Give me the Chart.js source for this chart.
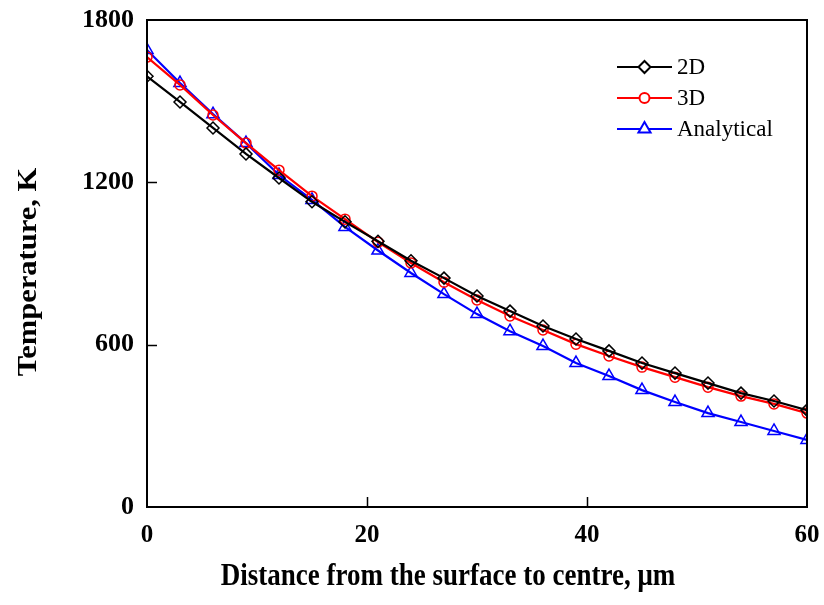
<!DOCTYPE html>
<html>
<head>
<meta charset="utf-8">
<script src="https://cdn.jsdelivr.net/npm/chart.js@4/dist/chart.umd.min.js"></script>
<style>
  html, body { margin: 0; padding: 0; background: #fff; }
  #wrap { width: 824px; height: 605px; }
</style>
</head>
<body>
<div id="wrap"><canvas id="chartCanvas" width="824" height="605"></canvas></div>
<script>
// data
const distance = [0, 3, 6, 9, 12, 15, 18, 21, 24, 27, 30, 33, 36, 39, 42, 45, 48, 51, 54, 57, 60];
const temp2D = [1592, 1497, 1401, 1305, 1216, 1128, 1054, 982, 910, 846, 780, 724, 669, 621, 577, 532, 495, 458, 421, 392, 358];
const temp3D = [1663, 1560, 1449, 1345, 1245, 1149, 1064, 979, 902, 831, 765, 706, 654, 602, 558, 517, 480, 443, 410, 381, 347];
const tempAnalytical = [1689, 1567, 1452, 1345, 1227, 1135, 1035, 948, 865, 787, 713, 650, 595, 532, 484, 432, 388, 347, 314, 281, 248];
const xTicks = [0, 20, 40, 60];
const yTicks = [0, 600, 1200, 1800];
const xTitle = 'Distance from the surface to centre, μm';
const yTitle = 'Temperature, K';

const series = [
    { label: '2D', data: temp2D, color: '#000000', style: 'rectRot', r: 6 },
    { label: '3D', data: temp3D, color: '#ff0000', style: 'circle', r: 5 },
    { label: 'Analytical', data: tempAnalytical, color: '#0000ff', style: 'triangle', r: 7 }
];

const serif = '"Liberation Serif", "Times New Roman", serif';

// frame + inward ticks
const framePlugin = {
    id: 'frame',
    afterDatasetsDraw(chart) {
        const { ctx, chartArea: a, scales } = chart;
        ctx.save();
        ctx.strokeStyle = '#000';
        ctx.lineWidth = 2;
        ctx.strokeRect(a.left, a.top, a.right - a.left, a.bottom - a.top);
        ctx.lineWidth = 1.5;
        ctx.beginPath();
        xTicks.slice(1, -1).forEach(v => {
            const px = Math.round(scales.x.getPixelForValue(v)) + 0.5;
            ctx.moveTo(px, a.bottom); ctx.lineTo(px, a.bottom - 10);
        });
        yTicks.slice(1, -1).forEach(v => {
            const py = Math.round(scales.y.getPixelForValue(v)) + 0.5;
            ctx.moveTo(a.left, py); ctx.lineTo(a.left + 10, py);
        });
        ctx.stroke();
        ctx.restore();
    }
};

// axis titles (slightly stretched, like the original figure)
const titlePlugin = {
    id: 'axisTitles',
    afterDraw(chart) {
        const { ctx } = chart;
        ctx.save();
        ctx.fillStyle = '#000';
        ctx.font = 'bold 27px ' + serif;
        ctx.textAlign = 'center';
        ctx.textBaseline = 'middle';
        ctx.save();
        ctx.translate(448, 577);
        ctx.scale(1, 1.15);
        ctx.fillText(xTitle, 0, 0);
        ctx.restore();
        ctx.save();
        ctx.translate(29, 272);
        ctx.rotate(-Math.PI / 2);
        ctx.scale(1.13, 1);
        ctx.fillText(yTitle, 0, 0);
        ctx.restore();
        ctx.restore();
    }
};

// legend drawn as line + marker like the original
const legendPlugin = {
    id: 'lineLegend',
    afterDraw(chart) {
        const { ctx } = chart;
        const x0 = 617, x1 = 672, y0 = 67, gap = 31;
        ctx.save();
        series.forEach((s, i) => {
            const y = y0 + i * gap;
            ctx.strokeStyle = s.color;
            ctx.lineWidth = 2;
            ctx.beginPath(); ctx.moveTo(x0, y); ctx.lineTo(x1, y); ctx.stroke();
            ctx.fillStyle = '#fff';
            Chart.helpers.drawPoint(ctx, { pointStyle: s.style, radius: s.r, borderWidth: 1.5 }, (x0 + x1) / 2, y);
            ctx.fillStyle = '#000';
            ctx.font = '23px ' + serif;
            ctx.textBaseline = 'middle';
            ctx.fillText(s.label, x1 + 5, y + 1);
        });
        ctx.restore();
    }
};

const ctx = document.getElementById('chartCanvas').getContext('2d');
window.chart = new Chart(ctx, {
    type: 'line',
    data: {
        labels: distance,
        datasets: series.map(s => ({
            label: s.label,
            data: distance.map((d, i) => ({ x: d, y: s.data[i] })),
            borderColor: s.color,
            backgroundColor: 'rgba(255,255,255,0)',
            borderWidth: 2.2,
            pointStyle: s.style,
            pointRadius: s.r,
            pointBorderWidth: 1.5,
            pointBorderColor: s.color,
            pointBackgroundColor: 'rgba(255,255,255,0)',
            tension: 0,
            fill: false
        }))
    },
    options: {
        responsive: false,
        animation: false,
        layout: { padding: { top: 20, right: 17, left: 0, bottom: 0 } },
        plugins: { legend: { display: false }, tooltip: { enabled: false } },
        scales: {
            x: {
                type: 'linear', min: 0, max: 60,
                afterBuildTicks: sc => { sc.ticks = xTicks.map(v => ({ value: v })); },
                grid: { display: false, drawTicks: false },
                border: { display: false },
                ticks: { color: '#000', padding: 14, maxRotation: 0, font: { family: serif, size: 25, weight: 'bold' },
                         callback: v => String(v) },
                afterFit: sc => { sc.height = 98; sc.paddingLeft = 0; sc.paddingRight = 0; }
            },
            y: {
                type: 'linear', min: 0, max: 1800,
                afterBuildTicks: sc => { sc.ticks = yTicks.map(v => ({ value: v })); },
                grid: { display: false, drawTicks: false },
                border: { display: false },
                ticks: { color: '#000', padding: 13, font: { family: serif, size: 26, weight: 'bold' },
                         callback: v => String(v) },
                afterFit: sc => { sc.width = 147; sc.paddingTop = 0; sc.paddingBottom = 0; }
            }
        }
    },
    plugins: [framePlugin, titlePlugin, legendPlugin]
});
</script>
</body>
</html>
